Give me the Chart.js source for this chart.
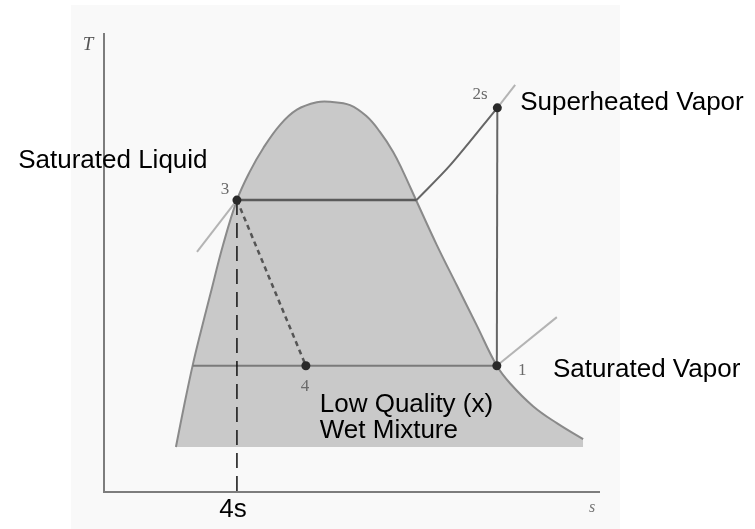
<!DOCTYPE html>
<html>
<head>
<meta charset="utf-8">
<script src="https://cdn.jsdelivr.net/npm/chart.js@4.4.1/dist/chart.umd.min.js"></script>
<style>
html,body{margin:0;padding:0;background:#ffffff;}
#wrap{width:755px;height:529px;position:relative;}
</style>
</head>
<body>
<div id="wrap"><canvas id="c" width="755" height="529"></canvas></div>
<script>
// Saturation dome (entropy s, temperature T) in arbitrary chart units 0..100
const domeS = [14.5, 16.3, 17.9, 19.35, 21.4, 24.0, 26.8, 29.4, 32.1, 35.5, 38.9, 42.9, 45.6, 49.6, 53.0, 55.6, 58.3, 60.3, 63.0, 67.1, 71.1, 75.1, 79.2, 81.85, 86.5, 91.3, 96.6];
const domeT = [9.8, 19.6, 27.7, 34.2, 42.9, 53.8, 63.6, 69.8, 74.9, 80.0, 83.3, 84.9, 85.0, 84.3, 81.8, 78.5, 74.1, 69.8, 63.4, 53.8, 45.1, 36.4, 27.5, 23.7, 18.7, 15.0, 11.5];
const domeBaseT = 9.8;

// Cycle state points
const stateNames = ['3', '4', '1', '2s'];
const stateS = [26.8, 40.7, 79.2, 79.3];
const stateT = [63.6, 27.5, 27.5, 83.7];

// Other cycle path values
const highSatVaporS = 63.0;      // saturated vapor at T3
const superheatS = [63.0, 69.8, 79.3];
const superheatT = [63.6, 71.2, 83.7];
const lowSatLiquidS = 17.9;      // saturated liquid at T4
const s4s = 26.8;

// Tangent stubs (s, T) pairs
const tangent3 = [[18.75, 52.3], [26.8, 63.6]];
const tangent2s = [[79.3, 83.7], [82.9, 88.7]];
const tangent1 = [[79.2, 27.5], [91.3, 38.1]];

// Text labels
const labelTexts = ['Saturated Liquid', 'Superheated Vapor', 'Saturated Vapor', 'Low Quality (x)', 'Wet Mixture', '4s'];
const labelS = [-17.3, 83.9, 90.5, 43.5, 43.5, 26.0];
const labelT = [70.6, 83.2, 25.1, 17.4, 11.8, -5.4];
const stateLabelS = [24.4, 40.5, 84.3, 75.8];
const stateLabelT = [65.8, 22.9, 26.4, 86.5];
const axisTitleY = 'T';
const axisTitleX = 's';

const pts = (xs, ys) => xs.map((x, i) => ({x: x, y: ys[i]}));

const datasets = [
  { // dome
    data: pts(domeS, domeT),
    borderColor: '#8a8a8a', borderWidth: 2,
    backgroundColor: '#c9c9c9',
    fill: {value: domeBaseT},
    tension: 0.4,
    pointRadius: 0, order: 10
  },
  { // high-temperature evaporation line
    data: [{x: stateS[0], y: stateT[0]}, {x: highSatVaporS, y: stateT[0]}],
    borderColor: '#5a5a5a', borderWidth: 2.5, pointRadius: 0, fill: false, order: 5
  },
  { // low-temperature line
    data: [{x: lowSatLiquidS, y: stateT[1]}, {x: stateS[2], y: stateT[2]}],
    borderColor: '#7a7a7a', borderWidth: 2, pointRadius: 0, fill: false, order: 5
  },
  { // superheat path
    data: pts(superheatS, superheatT),
    borderColor: '#666666', borderWidth: 2, pointRadius: 0, fill: false, tension: 0.3, order: 5
  },
  { // isentropic 1-2s
    data: [{x: stateS[3], y: stateT[3]}, {x: stateS[2], y: stateT[2]}],
    borderColor: '#666666', borderWidth: 2, pointRadius: 0, fill: false, order: 5
  },
  { // throttling 3-4 dashed
    data: [{x: stateS[0], y: stateT[0]}, {x: stateS[1], y: stateT[1]}],
    borderColor: '#555555', borderWidth: 2.5, borderDash: [5, 4], pointRadius: 0, fill: false, order: 5
  },
  { // 4s dashed vertical
    data: [{x: s4s, y: stateT[0]}, {x: s4s, y: 0}],
    borderColor: '#111111', borderWidth: 1.5, borderDash: [15, 8], pointRadius: 0, fill: false, order: 4
  },
  { data: tangent3.map(p => ({x: p[0], y: p[1]})), borderColor: '#b4b4b4', borderWidth: 2, pointRadius: 0, fill: false, order: 6 },
  { data: tangent2s.map(p => ({x: p[0], y: p[1]})), borderColor: '#b4b4b4', borderWidth: 2, pointRadius: 0, fill: false, order: 6 },
  { data: tangent1.map(p => ({x: p[0], y: p[1]})), borderColor: '#b4b4b4', borderWidth: 2, pointRadius: 0, fill: false, order: 6 },
  { // axes
    data: [{x: 0, y: 100}, {x: 0, y: 0}, {x: 100, y: 0}],
    borderColor: '#7d7d7d', borderWidth: 2, pointRadius: 0, fill: false, order: 3
  },
  { // state points
    data: pts(stateS, stateT),
    showLine: false, pointRadius: 4.5, pointBackgroundColor: '#2a2a2a', pointBorderColor: '#2a2a2a',
    pointBorderWidth: 0, order: 1
  }
];

const bgPlugin = {
  id: 'bg',
  beforeDraw(chart) {
    const ctx = chart.ctx;
    ctx.save();
    ctx.fillStyle = '#ffffff';
    ctx.fillRect(0, 0, chart.width, chart.height);
    ctx.fillStyle = '#f9f9f9';
    ctx.fillRect(71, 5, 549, 524);
    ctx.restore();
  }
};

const textPlugin = {
  id: 'texts',
  afterDatasetsDraw(chart) {
    const ctx = chart.ctx;
    const xs = chart.scales.x, ys = chart.scales.y;
    ctx.save();
    ctx.fillStyle = '#000000';
    ctx.font = '26px "Liberation Sans", Arial, sans-serif';
    ctx.textBaseline = 'alphabetic';
    labelTexts.forEach((t, i) => {
      ctx.textAlign = (t === '4s') ? 'center' : 'left';
      ctx.fillText(t, xs.getPixelForValue(labelS[i]), ys.getPixelForValue(labelT[i]));
    });
    ctx.fillStyle = '#6a6a6a';
    ctx.font = '17px "Liberation Serif", "DejaVu Serif", serif';
    ctx.textAlign = 'center';
    ctx.textBaseline = 'middle';
    stateNames.forEach((t, i) => {
      ctx.fillText(t, xs.getPixelForValue(stateLabelS[i]), ys.getPixelForValue(stateLabelT[i]));
    });
    ctx.font = 'italic 19px "Liberation Serif", serif';
    ctx.fillStyle = '#555555';
    ctx.fillText(axisTitleY, xs.getPixelForValue(-3.2), ys.getPixelForValue(97.4));
    ctx.font = 'italic 16px "Liberation Serif", serif';
    ctx.fillStyle = '#777777';
    ctx.fillText(axisTitleX, xs.getPixelForValue(98.4), ys.getPixelForValue(-3.5));
    ctx.restore();
  }
};

new Chart(document.getElementById('c'), {
  type: 'line',
  data: { datasets: datasets },
  options: {
    responsive: false,
    animation: false,
    layout: { padding: { left: 104, top: 33, right: 155, bottom: 37 } },
    scales: {
      x: { type: 'linear', min: 0, max: 100, display: false },
      y: { type: 'linear', min: 0, max: 100, display: false }
    },
    plugins: { legend: { display: false }, tooltip: { enabled: false } },
    elements: { line: { borderCapStyle: 'butt' } },
    clip: false
  },
  plugins: [bgPlugin, textPlugin]
});
</script>
</body>
</html>
